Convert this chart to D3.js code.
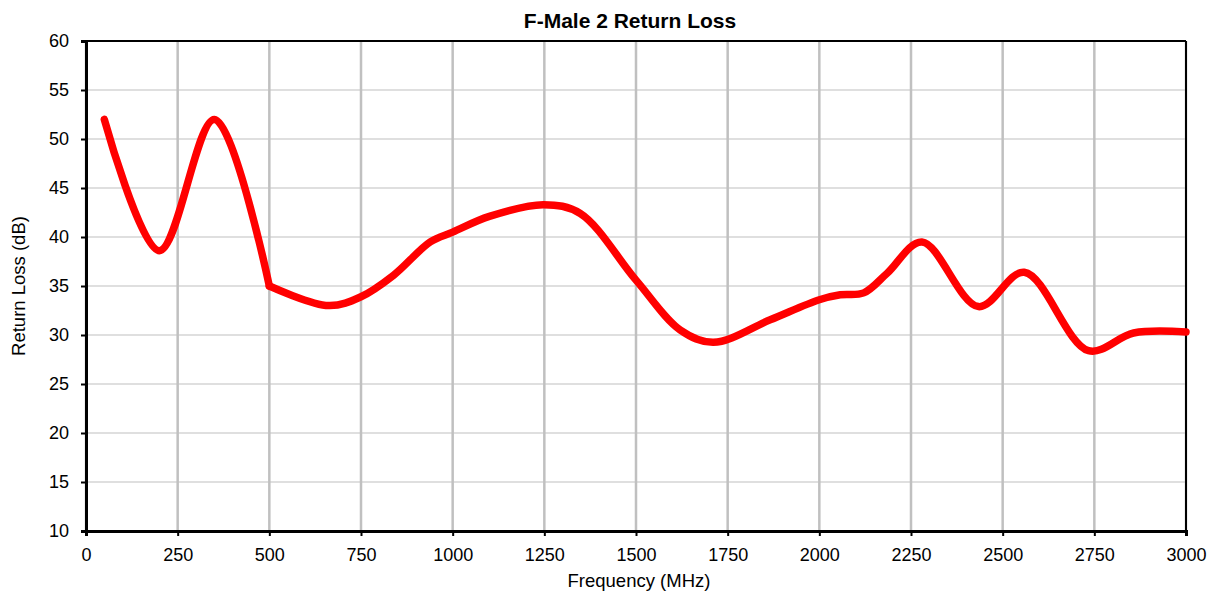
<!DOCTYPE html>
<html>
<head>
<meta charset="utf-8">
<script src="https://cdn.jsdelivr.net/npm/d3@7"></script>
<style>
  body { margin: 0; background: #fff; }
  text { font-family: "Liberation Sans", Arial, sans-serif; fill: #000; }
</style>
</head>
<body>
<div id="plot_area"></div>
<script>
// values
var freqs = [50, 200, 350, 500, 662, 750, 839, 939, 1000, 1100, 1248, 1348,
             1500, 1621, 1711, 1866, 2000, 2057, 2121, 2185, 2280, 2434, 2559, 2734, 2857, 3000];
var returnLoss = [52.0, 38.6, 52.0, 35.0, 33.0, 33.9, 36.1, 39.5, 40.5, 42.1, 43.3, 42.4,
                  35.6, 30.5, 29.25, 31.55, 33.6, 34.1, 34.3, 36.3, 39.5, 32.9, 36.4, 28.4, 30.2, 30.3];
var xTicks = d3.range(0, 3001, 250);
var yTicks = d3.range(10, 61, 5);

var margin = {top: 41, right: 26, bottom: 63, left: 86},
    width = 1212 - margin.left - margin.right,
    height = 594 - margin.top - margin.bottom;

var svg = d3.select("#plot_area")
  .append("svg")
    .attr("width", 1212)
    .attr("height", 594)
  .append("g")
    .attr("transform", "translate(" + margin.left + "," + margin.top + ")");

var x = d3.scaleLinear().domain([0, 3000]).range([0, width]);
var y = d3.scaleLinear().domain([10, 60]).range([height, 0]);

// horizontal grid
svg.append("g")
  .selectAll("line")
  .data(yTicks)
  .enter().append("line")
    .attr("x1", 0).attr("x2", width)
    .attr("y1", function(d) { return y(d); })
    .attr("y2", function(d) { return y(d); })
    .attr("stroke", "#d4d4d4")
    .attr("stroke-width", 1.5);

// vertical grid
svg.append("g")
  .selectAll("line")
  .data(xTicks)
  .enter().append("line")
    .attr("x1", function(d) { return x(d); })
    .attr("x2", function(d) { return x(d); })
    .attr("y1", 0).attr("y2", height)
    .attr("stroke", "#c0c0c0")
    .attr("stroke-width", 2.5);

// frame top/right
svg.append("line").attr("x1", 0).attr("x2", width).attr("y1", 0).attr("y2", 0)
  .attr("stroke", "#000").attr("stroke-width", 2);
svg.append("line").attr("x1", width).attr("x2", width).attr("y1", 0).attr("y2", height)
  .attr("stroke", "#000").attr("stroke-width", 2);

// axes
var xAxis = svg.append("g")
  .attr("transform", "translate(0," + height + ")")
  .call(d3.axisBottom(x).tickValues(xTicks).tickSize(5).tickPadding(12).tickFormat(d3.format("d")));
var yAxis = svg.append("g")
  .call(d3.axisLeft(y).tickValues(yTicks).tickSize(5).tickPadding(12).tickFormat(d3.format("d")));

[xAxis, yAxis].forEach(function(a) {
  a.select(".domain").attr("stroke", "#000").attr("stroke-width", 3);
  a.selectAll(".tick line").attr("stroke", "#000").attr("stroke-width", 2);
  a.selectAll(".tick text").style("font-size", "18px").style("font-family", "Liberation Sans, Arial, sans-serif");
});

// the curve (drawn in two pieces so the corner at 500 MHz stays sharp)
var pts = freqs.map(function(f, i) { return [f, returnLoss[i]]; });
var breakAt = freqs.indexOf(500);

var line = d3.line()
  .x(function(d) { return x(d[0]); })
  .y(function(d) { return y(d[1]); })
  .curve(d3.curveCatmullRom.alpha(0.5));

svg.selectAll(".curve")
  .data([pts.slice(0, breakAt + 1), pts.slice(breakAt)])
  .enter().append("path")
    .attr("class", "curve")
    .attr("fill", "none")
    .attr("stroke", "#ff0000")
    .attr("stroke-width", 7.5)
    .attr("stroke-linejoin", "round")
    .attr("stroke-linecap", "round")
    .attr("d", line);

// titles
svg.append("text")
  .attr("x", width / 2 - 6)
  .attr("y", -13)
  .attr("text-anchor", "middle")
  .style("font-size", "21px")
  .style("font-weight", "bold")
  .text("F-Male 2 Return Loss");

svg.append("text")
  .attr("x", width / 2 + 3)
  .attr("y", height + 56)
  .attr("text-anchor", "middle")
  .style("font-size", "18.5px")
  .text("Frequency (MHz)");

svg.append("text")
  .attr("transform", "translate(" + (-61) + "," + (height / 2) + ") rotate(-90)")
  .attr("text-anchor", "middle")
  .style("font-size", "18.5px")
  .text("Return Loss (dB)");
</script>
</body>
</html>
